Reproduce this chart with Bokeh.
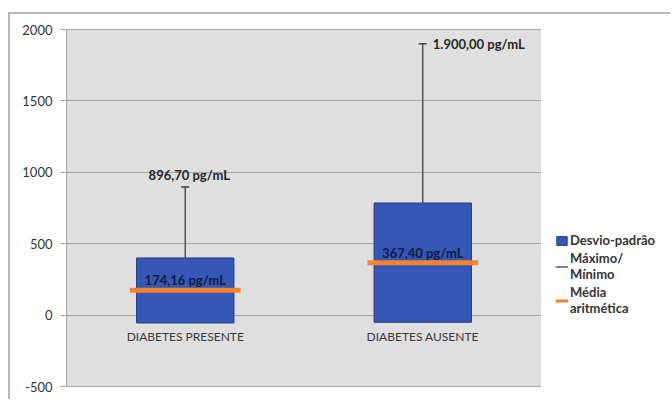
from bokeh.plotting import figure
from bokeh.layouts import row
from bokeh.models import (ColumnDataSource, FactorRange, Range1d, FixedTicker,
                          Legend, LegendItem)
from bokeh.transform import dodge
from bokeh.core.properties import value
from bokeh.embed import file_html
from bokeh.resources import INLINE

# ---- data ----
categories = ["DIABETES PRESENTE", "DIABETES AUSENTE"]
sd_low = [-55, -50]            # bottom of the "Desvio-padrão" bar
sd_high = [400, 785]           # top of the "Desvio-padrão" bar
mean_vals = [174.16, 367.40]   # "Média aritmética"
max_vals = [896.70, 1900.00]   # "Máximo"
mean_labels = ["174,16 pg/mL", "367,40 pg/mL"]
max_labels = ["896,70 pg/mL", "1.900,00 pg/mL"]
y_ticks = [-500, 0, 500, 1000, 1500, 2000]
y_tick_labels = ["-500", "0", "500", "1000", "1500", "2000"]
legend_labels = ["Desvio-padrão", "Máximo/\nMínimo", "Média\naritmética"]

FONT = "Lato"
BLUE = "#3557b5"
BLUE_EDGE = "#233d86"
ORANGE = "#f5822f"
WHISKER = "#404040"
FRAME_BORDER = "2px solid #b8b8b8"

src = ColumnDataSource(dict(cat=categories, low=sd_low, high=sd_high,
                            mean=mean_vals, mx=max_vals,
                            mlab=mean_labels, xlab=max_labels,
                            zero=[0] * len(categories)))

p = figure(x_range=FactorRange(factors=categories), y_range=Range1d(-500, 2000),
           width=533, height=387, output_backend="svg", toolbar_location=None,
           min_border_left=56, min_border_right=2, min_border_top=15,
           min_border_bottom=15, background_fill_color="#dfdfdf",
           border_fill_color="white", outline_line_color="#a6a6a6",
           margin=(12, 0, 0, 8))
p.styles = {"border-top": FRAME_BORDER, "border-left": FRAME_BORDER}

p.xaxis.visible = False
p.xgrid.visible = False
p.yaxis.ticker = FixedTicker(ticks=y_ticks)
p.yaxis.major_label_overrides = dict(zip(y_ticks, y_tick_labels))
p.ygrid.ticker = FixedTicker(ticks=y_ticks)
p.ygrid.grid_line_color = "#a3a3a3"
p.yaxis.axis_line_color = "#a6a6a6"
p.yaxis.major_tick_line_color = "#a6a6a6"
p.yaxis.major_tick_out = 6
p.yaxis.major_tick_in = 0
p.yaxis.minor_tick_line_color = None
p.yaxis.major_label_standoff = 8
p.yaxis.major_label_text_font = FONT
p.yaxis.major_label_text_font_size = "13px"
p.yaxis.major_label_text_color = "#333333"

p.vbar(x="cat", bottom="low", top="high", width=0.41, source=src,
       fill_color=BLUE, line_color=BLUE_EDGE, line_width=1)
p.segment(x0="cat", y0="high", x1="cat", y1="mx", source=src,
          line_color=WHISKER, line_width=1.3)
p.scatter(x="cat", y="mx", marker="dash", size=8, source=src,
          line_color=WHISKER, line_width=1.5)
p.segment(x0=dodge("cat", -0.233, range=p.x_range), y0="mean",
          x1=dodge("cat", 0.233, range=p.x_range), y1="mean", source=src,
          line_color=ORANGE, line_width=5)

# labels
p.text(x="cat", y="mean", text="mlab", source=src, text_align="center",
       text_baseline="middle", y_offset=-10, text_font=value(FONT),
       text_font_style="bold", text_font_size="13px", text_color="#0f1a45")

s1 = ColumnDataSource(dict(cat=categories[:1], mx=max_vals[:1], t=max_labels[:1]))
s2 = ColumnDataSource(dict(cat=categories[1:], mx=max_vals[1:], t=max_labels[1:]))
p.text(x="cat", y="mx", text="t", source=s1, text_align="center",
       text_baseline="middle", x_offset=4, y_offset=-12, text_font=value(FONT),
       text_font_style="bold", text_font_size="13px", text_color="#262626")
p.text(x="cat", y="mx", text="t", source=s2, text_align="left",
       text_baseline="middle", x_offset=10, y_offset=0, text_font=value(FONT),
       text_font_style="bold", text_font_size="13px", text_color="#262626")

p.text(x="cat", y="zero", text="cat", source=src, text_align="center",
       text_baseline="middle", y_offset=21, text_font=value(FONT),
       text_font_size="12px", text_color="#3a3a3a")

# ---- legend panel (separate canvas so it is not clipped by the plot frame) ----
lf = figure(width=129, height=387, output_backend="svg", toolbar_location=None,
            x_range=Range1d(0, 1), y_range=Range1d(0, 1),
            min_border=0, outline_line_color=None, margin=(12, 0, 0, 0))
lf.styles = {"border-top": FRAME_BORDER}
lf.axis.visible = False
lf.grid.visible = False
nan = [float("nan")]
r_sd = lf.vbar(x=nan, top=nan, width=0.1, fill_color=BLUE, line_color=BLUE_EDGE)
r_mx = lf.segment(x0=nan, y0=nan, x1=nan, y1=nan, line_color=WHISKER, line_width=1.3)
r_mean = lf.segment(x0=nan, y0=nan, x1=nan, y1=nan, line_color=ORANGE, line_width=3)

legend = Legend(items=[LegendItem(label=legend_labels[0], renderers=[r_sd]),
                       LegendItem(label=legend_labels[1], renderers=[r_mx]),
                       LegendItem(label=legend_labels[2], renderers=[r_mean])],
                location=(14, 70), padding=0, margin=0, spacing=2,
                glyph_width=13, glyph_height=11, label_standoff=2,
                label_text_font=FONT, label_text_font_style="bold",
                label_text_font_size="13px", label_text_color="#333333",
                border_line_color=None, background_fill_alpha=0)
lf.add_layout(legend, "center")

layout = row(p, lf, spacing=0)
open("out.html", "w").write(file_html(layout, INLINE))
